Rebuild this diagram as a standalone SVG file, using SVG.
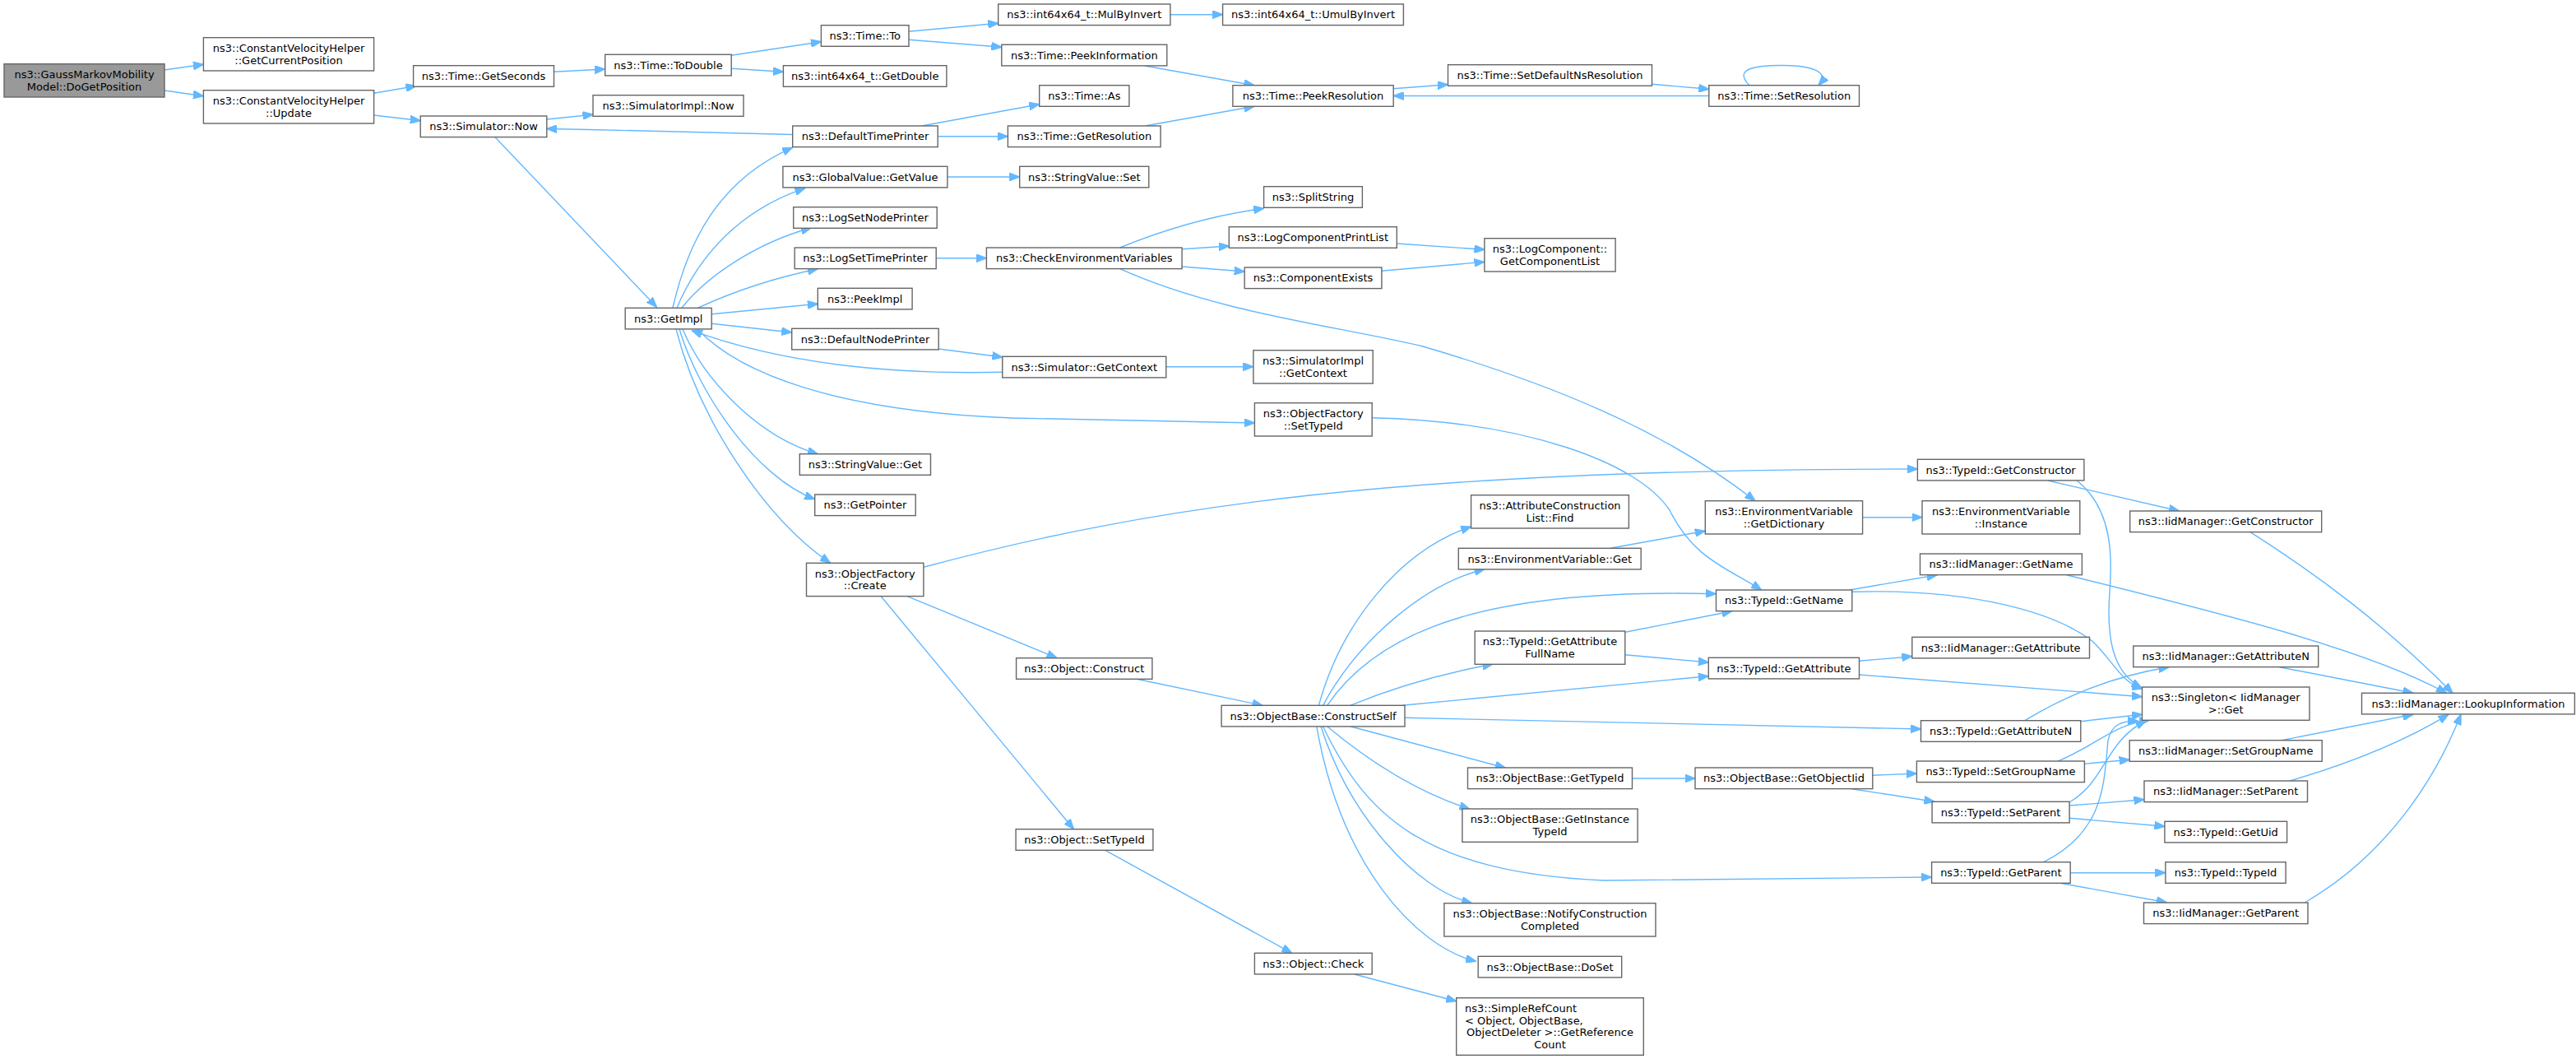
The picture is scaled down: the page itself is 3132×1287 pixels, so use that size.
<svg xmlns="http://www.w3.org/2000/svg" width="3132" height="1287" viewBox="0 0 3132 1287">
<defs>
<marker id="ah" markerUnits="userSpaceOnUse" viewBox="0 0 13 10" refX="12.5" refY="5" markerWidth="13" markerHeight="10" orient="auto">
<path d="M0,0 L13,5 L0,10 Z" fill="#63B8FF" stroke="#63B8FF" stroke-width="1"/>
</marker>
</defs>
<style>
.nd rect{fill:#ffffff;stroke:#666666;stroke-width:1.4}
.nd.root rect{fill:#999999}
.nd text{font-family:"DejaVu Sans","Liberation Sans",sans-serif;font-size:13px;fill:#000000;text-anchor:middle}
.nd text.l{text-anchor:start}
#edges path{fill:none;stroke:#63B8FF;stroke-width:1.4;marker-end:url(#ah)}
</style>
<rect x="0" y="0" width="3132" height="1287" fill="#ffffff"/>
<g id="edges">
<path d="M200,85 L247.4,78.3"/>
<path d="M200,110 L247.4,116.7"/>
<path d="M454.6,113.3 L506,104.5"/>
<path d="M454.6,140 L511.2,146.7"/>
<path d="M673.5,87.3 L735.7,84"/>
<path d="M664.8,145 L721,139.3"/>
<path d="M963.7,163.5 C850,161 760,158 664.8,156.5"/>
<path d="M602,166.7 L798.5,373.3"/>
<path d="M889.2,67.3 L998.4,50.7"/>
<path d="M889.2,83.3 L952.4,87.3"/>
<path d="M1105,38.3 L1213.7,28.3"/>
<path d="M1105,48.3 L1217.8,57.3"/>
<path d="M1422.9,17.7 L1486.6,17.7"/>
<path d="M1392.2,80 L1524.9,103.7"/>
<path d="M1120.8,153 L1263.7,126.7"/>
<path d="M1140.2,165.7 L1225.4,165.7"/>
<path d="M1392.2,153 L1524.9,129.3"/>
<path d="M1694.2,107.7 L1760.5,102.7"/>
<path d="M2008.5,102.3 L2077.8,108.3"/>
<path d="M2077.8,116.5 L1694.2,116.5"/>
<path d="M2127,103.7 C2105,82 2140,79 2169,79.5 C2205,80 2225,88 2211,103.7"/>
<path d="M1151.9,215 L1239.7,215"/>
<path d="M1138.2,313.7 L1199.4,313.7"/>
<path d="M1361.6,301 Q1450,265 1536.6,253.3"/>
<path d="M1437.1,302.7 L1494.3,299"/>
<path d="M1437.1,324 L1513.2,330"/>
<path d="M1361.6,326.7 C1480,380 1620,395 1730,421 C1880,465 2020,520 2134,608.7"/>
<path d="M1698.3,296 L1804.9,303.3"/>
<path d="M1679.9,329.3 L1804.9,318.3"/>
<path d="M818,374 C835,300 870,220 963.7,179.3"/>
<path d="M823,374 C850,310 900,255 979,228.7"/>
<path d="M829,374 C860,335 920,295 986.6,276.7"/>
<path d="M849,374 C890,355 940,338 994.3,326.7"/>
<path d="M865.2,381.7 L994.3,369.3"/>
<path d="M865.2,393.3 L962.7,404"/>
<path d="M1141.2,424 L1218.8,434"/>
<path d="M1218.8,452.3 C1100,455 960,445 841.2,401.7"/>
<path d="M1417.8,445.7 L1523.9,445.7"/>
<path d="M848,400 C900,455 1020,500 1230,508 L1525.4,514"/>
<path d="M830,400 C855,460 920,530 994.3,551.7"/>
<path d="M826,400 C850,480 920,580 990.7,606.7"/>
<path d="M822,400 C850,510 930,630 1009.6,684.3"/>
<path d="M1668.2,507.7 C1850,512 1990,560 2030,620 C2060,680 2100,690 2141.6,717"/>
<path d="M1122.9,689.3 C1400,615 1700,570 2331.4,570"/>
<path d="M1102.4,724.3 L1285.1,799.7"/>
<path d="M1070.8,724.3 L1305.5,1007.7"/>
<path d="M1382,825.3 L1535.1,857.3"/>
<path d="M1343.8,1033.3 L1570.8,1158.3"/>
<path d="M1646.7,1184 L1770.7,1216.7"/>
<path d="M1603.4,857.3 C1630,760 1700,670 1788.6,640"/>
<path d="M1608.5,857.3 C1650,780 1730,710 1805,691.7"/>
<path d="M1613.6,857.3 C1680,760 1820,715 2086.5,721.7"/>
<path d="M1641.6,857.3 Q1720,825 1815,807"/>
<path d="M1705,857.3 L2077.3,821.7"/>
<path d="M1958,666.3 L2073.3,645.3"/>
<path d="M2264.6,628.7 L2337,628.7"/>
<path d="M1975.8,768.3 L2106,742.7"/>
<path d="M1975.8,795.7 L2077.3,805"/>
<path d="M2248.8,717 L2355.2,698.7"/>
<path d="M2251.8,719.3 C2400,715 2500,745 2545,780 C2570,805 2580,830 2605,837"/>
<path d="M2260.5,803.3 L2324.8,797.7"/>
<path d="M2260.5,820 L2604.5,846.7"/>
<path d="M1708,872.3 L2335.5,886"/>
<path d="M2489.7,584 L2649.6,621"/>
<path d="M2525.3,584 C2570,620 2568,680 2565,720 C2560,790 2575,820 2604,836"/>
<path d="M2736,646.7 C2820,700 2900,760 2982,842.3"/>
<path d="M2512.6,698.7 C2700,745 2880,790 2974.5,842.3"/>
<path d="M2771.5,810.7 L2934,842.3"/>
<path d="M2461.8,875.7 C2520,840 2580,820 2637,810.7"/>
<path d="M2529.8,876.7 L2604.5,868.3"/>
<path d="M2276.8,942.3 L2330.4,940"/>
<path d="M2251.3,958.7 L2352,974.3"/>
<path d="M1984.5,946 L2061,946"/>
<path d="M1641.6,882.7 L1830.4,933.3"/>
<path d="M1613.6,882.7 Q1700,955 1787,983.3"/>
<path d="M1608.5,882.7 C1660,990 1730,1060 1950,1070 L2348.3,1066"/>
<path d="M1606,882.7 C1640,990 1720,1080 1789.6,1097.7"/>
<path d="M1600.8,882.7 C1630,1050 1720,1150 1794.7,1168.3"/>
<path d="M2534.4,928.3 L2589.2,923.3"/>
<path d="M2502.4,925 C2550,905 2570,880 2614,875"/>
<path d="M2516.1,979 L2607,971.7"/>
<path d="M2516.1,994.3 L2631.9,1004.3"/>
<path d="M2516,975 C2560,950 2560,900 2609,876"/>
<path d="M2517.2,1060.7 L2632.9,1060.7"/>
<path d="M2505,1073.3 L2634.4,1096.7"/>
<path d="M2484.7,1047.7 C2560,1010 2558,950 2563,900 C2567,880 2580,876 2599,876"/>
<path d="M2774,899.7 L2934,868.3"/>
<path d="M2784,949 Q2900,915 2977,868.3"/>
<path d="M2802,1097 C2900,1040 2960,950 2992,868.3"/>
</g>
<g id="n1" class="nd root"><rect x="5" y="77.7" width="195" height="40.3"/><text x="102.5" y="95">ns3::GaussMarkovMobility</text><text x="102.5" y="109.7">Model::DoGetPosition</text></g>
<g id="n2" class="nd"><rect x="247.4" y="45.7" width="207.2" height="40.3"/><text x="351" y="63">ns3::ConstantVelocityHelper</text><text x="351" y="77.7">::GetCurrentPosition</text></g>
<g id="n3" class="nd"><rect x="247.4" y="109.7" width="207.2" height="40.3"/><text x="351" y="127">ns3::ConstantVelocityHelper</text><text x="351" y="141.7">::Update</text></g>
<g id="n4" class="nd"><rect x="502.6" y="79.7" width="170.9" height="25.6"/><text x="588" y="97">ns3::Time::GetSeconds</text></g>
<g id="n5" class="nd"><rect x="511.2" y="141" width="153.6" height="25.6"/><text x="588" y="158.3">ns3::Simulator::Now</text></g>
<g id="n6" class="nd"><rect x="735.7" y="66.3" width="153.5" height="25.6"/><text x="812.5" y="83.6">ns3::Time::ToDouble</text></g>
<g id="n7" class="nd"><rect x="721" y="115.7" width="183" height="25.6"/><text x="812.5" y="133">ns3::SimulatorImpl::Now</text></g>
<g id="n8" class="nd"><rect x="760.2" y="374.3" width="105" height="25.6"/><text x="812.7" y="391.6">ns3::GetImpl</text></g>
<g id="n9" class="nd"><rect x="998.4" y="30.7" width="106.6" height="25.6"/><text x="1051.7" y="48">ns3::Time::To</text></g>
<g id="n10" class="nd"><rect x="1213.7" y="5" width="209.2" height="25.6"/><text x="1318.3" y="22.3">ns3::int64x64_t::MulByInvert</text></g>
<g id="n11" class="nd"><rect x="1486.6" y="5" width="219.8" height="25.6"/><text x="1596.5" y="22.3">ns3::int64x64_t::UmulByInvert</text></g>
<g id="n12" class="nd"><rect x="1217.8" y="54.3" width="201" height="25.6"/><text x="1318.3" y="71.6">ns3::Time::PeekInformation</text></g>
<g id="n13" class="nd"><rect x="952.4" y="79.7" width="198.5" height="25.6"/><text x="1051.7" y="97">ns3::int64x64_t::GetDouble</text></g>
<g id="n14" class="nd"><rect x="1263.7" y="103.7" width="109.2" height="25.6"/><text x="1318.3" y="121">ns3::Time::As</text></g>
<g id="n15" class="nd"><rect x="1498.9" y="103.7" width="195.3" height="25.6"/><text x="1596.5" y="121">ns3::Time::PeekResolution</text></g>
<g id="n16" class="nd"><rect x="963.7" y="153" width="176.5" height="25.6"/><text x="1052" y="170.3">ns3::DefaultTimePrinter</text></g>
<g id="n17" class="nd"><rect x="1225.4" y="153" width="185.7" height="25.6"/><text x="1318.3" y="170.3">ns3::Time::GetResolution</text></g>
<g id="n18" class="nd"><rect x="951.9" y="202.3" width="200" height="25.6"/><text x="1052" y="219.6">ns3::GlobalValue::GetValue</text></g>
<g id="n19" class="nd"><rect x="1239.7" y="202.3" width="157.1" height="25.6"/><text x="1318.3" y="219.6">ns3::StringValue::Set</text></g>
<g id="n20" class="nd"><rect x="964.7" y="251.7" width="174.5" height="25.6"/><text x="1052" y="269">ns3::LogSetNodePrinter</text></g>
<g id="n21" class="nd"><rect x="966.2" y="301" width="172" height="25.6"/><text x="1052" y="318.3">ns3::LogSetTimePrinter</text></g>
<g id="n22" class="nd"><rect x="1199.4" y="301" width="237.7" height="25.6"/><text x="1318.3" y="318.3">ns3::CheckEnvironmentVariables</text></g>
<g id="n23" class="nd"><rect x="994.3" y="350.3" width="114.8" height="25.6"/><text x="1051.7" y="367.6">ns3::PeekImpl</text></g>
<g id="n24" class="nd"><rect x="962.7" y="399.3" width="178.5" height="25.6"/><text x="1052" y="416.6">ns3::DefaultNodePrinter</text></g>
<g id="n25" class="nd"><rect x="1536.6" y="226.7" width="119.8" height="25.6"/><text x="1596.5" y="244">ns3::SplitString</text></g>
<g id="n26" class="nd"><rect x="1494.3" y="275.7" width="204" height="25.6"/><text x="1596.3" y="293">ns3::LogComponentPrintList</text></g>
<g id="n27" class="nd"><rect x="1513.2" y="325" width="166.7" height="25.6"/><text x="1596.5" y="342.3">ns3::ComponentExists</text></g>
<g id="n28" class="nd"><rect x="1760.5" y="78.7" width="248" height="25.6"/><text x="1884.5" y="96">ns3::Time::SetDefaultNsResolution</text></g>
<g id="n29" class="nd"><rect x="2077.8" y="103.7" width="182.7" height="25.6"/><text x="2169.2" y="121">ns3::Time::SetResolution</text></g>
<g id="n30" class="nd"><rect x="1804.9" y="289.7" width="159.2" height="40.3"/><text x="1884.5" y="307">ns3::LogComponent::</text><text x="1884.5" y="321.7">GetComponentList</text></g>
<g id="n31" class="nd"><rect x="1218.8" y="433.3" width="199" height="25.6"/><text x="1318.3" y="450.6">ns3::Simulator::GetContext</text></g>
<g id="n32" class="nd"><rect x="1523.9" y="425.7" width="145.3" height="40.3"/><text x="1596.5" y="443">ns3::SimulatorImpl</text><text x="1596.5" y="457.7">::GetContext</text></g>
<g id="n33" class="nd"><rect x="1525.4" y="489.7" width="142.8" height="40.3"/><text x="1596.8" y="507">ns3::ObjectFactory</text><text x="1596.8" y="521.7">::SetTypeId</text></g>
<g id="n34" class="nd"><rect x="972.3" y="551.7" width="159.2" height="25.6"/><text x="1051.9" y="569">ns3::StringValue::Get</text></g>
<g id="n35" class="nd"><rect x="990.7" y="601" width="122.5" height="25.6"/><text x="1052" y="618.3">ns3::GetPointer</text></g>
<g id="n36" class="nd"><rect x="980.5" y="684.3" width="142.4" height="40.3"/><text x="1051.7" y="701.6">ns3::ObjectFactory</text><text x="1051.7" y="716.3">::Create</text></g>
<g id="n37" class="nd"><rect x="1235.6" y="799.7" width="165.3" height="25.6"/><text x="1318.3" y="817">ns3::Object::Construct</text></g>
<g id="n38" class="nd"><rect x="1485.1" y="857.3" width="222.9" height="25.6"/><text x="1596.5" y="874.6">ns3::ObjectBase::ConstructSelf</text></g>
<g id="n39" class="nd"><rect x="1788.6" y="601.7" width="191.8" height="40.3"/><text x="1884.5" y="619">ns3::AttributeConstruction</text><text x="1884.5" y="633.7">List::Find</text></g>
<g id="n40" class="nd"><rect x="1773.3" y="666.3" width="221.9" height="25.6"/><text x="1884.3" y="683.6">ns3::EnvironmentVariable::Get</text></g>
<g id="n41" class="nd"><rect x="2073.3" y="608.7" width="191.3" height="40.3"/><text x="2169" y="626">ns3::EnvironmentVariable</text><text x="2169" y="640.7">::GetDictionary</text></g>
<g id="n42" class="nd"><rect x="2086.5" y="717" width="165.3" height="25.6"/><text x="2169.2" y="734.3">ns3::TypeId::GetName</text></g>
<g id="n43" class="nd"><rect x="1793.2" y="767" width="182.6" height="40.3"/><text x="1884.5" y="784.3">ns3::TypeId::GetAttribute</text><text x="1884.5" y="799">FullName</text></g>
<g id="n44" class="nd"><rect x="2077.3" y="799.3" width="183.2" height="25.6"/><text x="2168.9" y="816.6">ns3::TypeId::GetAttribute</text></g>
<g id="n45" class="nd"><rect x="2331.4" y="558.3" width="202.5" height="25.6"/><text x="2432.6" y="575.6">ns3::TypeId::GetConstructor</text></g>
<g id="n46" class="nd"><rect x="2337" y="608.7" width="191.8" height="40.3"/><text x="2432.9" y="626">ns3::EnvironmentVariable</text><text x="2432.9" y="640.7">::Instance</text></g>
<g id="n47" class="nd"><rect x="2334.5" y="673" width="196.9" height="25.6"/><text x="2433" y="690.3">ns3::IidManager::GetName</text></g>
<g id="n48" class="nd"><rect x="2324.8" y="774.3" width="215.7" height="25.6"/><text x="2432.6" y="791.6">ns3::IidManager::GetAttribute</text></g>
<g id="n49" class="nd"><rect x="2589.7" y="621" width="233" height="25.6"/><text x="2706.2" y="638.3">ns3::IidManager::GetConstructor</text></g>
<g id="n50" class="nd"><rect x="2593.8" y="785" width="224.9" height="25.6"/><text x="2706.2" y="802.3">ns3::IidManager::GetAttributeN</text></g>
<g id="n51" class="nd"><rect x="2604.5" y="835" width="203.5" height="40.3"/><text x="2706.2" y="852.3">ns3::Singleton&lt; IidManager</text><text x="2706.2" y="867">&gt;::Get</text></g>
<g id="n52" class="nd"><rect x="2871.5" y="842.3" width="258.9" height="25.6"/><text x="3001" y="859.6">ns3::IidManager::LookupInformation</text></g>
<g id="n53" class="nd"><rect x="2335.5" y="875.7" width="194.3" height="25.6"/><text x="2432.6" y="893">ns3::TypeId::GetAttributeN</text></g>
<g id="n54" class="nd"><rect x="2330.4" y="925" width="204" height="25.6"/><text x="2432.4" y="942.3">ns3::TypeId::SetGroupName</text></g>
<g id="n55" class="nd"><rect x="2349.1" y="974.3" width="167" height="25.6"/><text x="2432.6" y="991.6">ns3::TypeId::SetParent</text></g>
<g id="n56" class="nd"><rect x="2348.6" y="1047.7" width="168.6" height="25.6"/><text x="2432.9" y="1065">ns3::TypeId::GetParent</text></g>
<g id="n57" class="nd"><rect x="2589.2" y="899.7" width="234" height="25.6"/><text x="2706.2" y="917">ns3::IidManager::SetGroupName</text></g>
<g id="n58" class="nd"><rect x="2607" y="949" width="198.5" height="25.6"/><text x="2706.2" y="966.3">ns3::IidManager::SetParent</text></g>
<g id="n59" class="nd"><rect x="2631.9" y="998.3" width="148.7" height="25.6"/><text x="2706.2" y="1015.6">ns3::TypeId::GetUid</text></g>
<g id="n60" class="nd"><rect x="2632.9" y="1047.7" width="146.2" height="25.6"/><text x="2706" y="1065">ns3::TypeId::TypeId</text></g>
<g id="n61" class="nd"><rect x="2606.5" y="1097" width="199.5" height="25.6"/><text x="2706.2" y="1114.3">ns3::IidManager::GetParent</text></g>
<g id="n62" class="nd"><rect x="1784.5" y="933" width="200" height="25.6"/><text x="1884.5" y="950.3">ns3::ObjectBase::GetTypeId</text></g>
<g id="n63" class="nd"><rect x="2061" y="933" width="215.8" height="25.6"/><text x="2168.9" y="950.3">ns3::ObjectBase::GetObjectIid</text></g>
<g id="n64" class="nd"><rect x="1777.9" y="983" width="213.2" height="40.3"/><text x="1884.5" y="1000.3">ns3::ObjectBase::GetInstance</text><text x="1884.5" y="1015">TypeId</text></g>
<g id="n65" class="nd"><rect x="1755.9" y="1097.7" width="257.1" height="40.3"/><text x="1884.5" y="1115">ns3::ObjectBase::NotifyConstruction</text><text x="1884.5" y="1129.7">Completed</text></g>
<g id="n66" class="nd"><rect x="1797.2" y="1162.3" width="174.5" height="25.6"/><text x="1884.5" y="1179.6">ns3::ObjectBase::DoSet</text></g>
<g id="n67" class="nd"><rect x="1235.1" y="1007.7" width="166.8" height="25.6"/><text x="1318.5" y="1025">ns3::Object::SetTypeId</text></g>
<g id="n68" class="nd"><rect x="1525.4" y="1158.3" width="142.8" height="25.6"/><text x="1596.8" y="1175.6">ns3::Object::Check</text></g>
<g id="n69" class="nd"><rect x="1770.7" y="1212.7" width="227.6" height="69.6"/><text class="l" x="1781" y="1230">ns3::SimpleRefCount</text><text class="l" x="1781" y="1244.7">&lt; Object, ObjectBase,</text><text x="1884.5" y="1259.3">ObjectDeleter &gt;::GetReference</text><text x="1884.5" y="1274">Count</text></g>
</svg>
